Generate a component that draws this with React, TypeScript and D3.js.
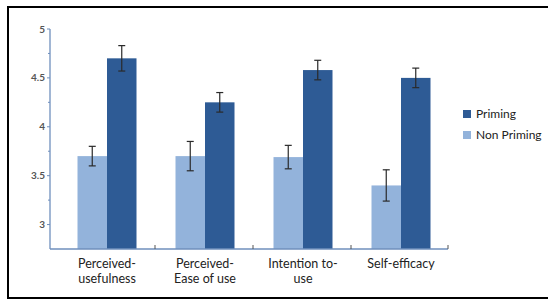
import React from "react";
import { scaleBand, scaleLinear, range } from "d3";

const categories = [
    ["Perceived-", "usefulness"],
    ["Perceived-", "Ease of use"],
    ["Intention to-", "use"],
    ["Self-efficacy"],
];
const primingValues = [4.7, 4.25, 4.58, 4.5];
const primingErrors = [0.13, 0.1, 0.1, 0.1];
const nonPrimingValues = [3.7, 3.7, 3.69, 3.4];
const nonPrimingErrors = [0.1, 0.15, 0.12, 0.16];
const yTickLabels = [3, 3.5, 4, 4.5, 5];
const seriesNames = ["Priming", "Non Priming"];

const WIDTH = 548;
const HEIGHT = 300;
const AXIS_X = 50;
const AXIS_Y = 249;
const DARK = "#2e5b95";
const LIGHT = "#93b3db";
const AXIS_COLOR = "#6f8fbd";
const FONT = "Lato, 'Open Sans', sans-serif";

const App = () => {
    const x = scaleBand<number>()
        .domain(range(categories.length))
        .range([58, 450])
        .paddingInner(0)
        .paddingOuter(0);
    const y = scaleLinear().domain([2.75, 5]).range([AXIS_Y, 29]);
    const barW = 29.5;
    const minorTicks = range(2.75, 5.01, 0.25).filter(v => !yTickLabels.includes(v) && v > 2.76);
    const series = [
        { name: seriesNames[1], color: LIGHT, values: nonPrimingValues, errors: nonPrimingErrors, offset: -barW },
        { name: seriesNames[0], color: DARK, values: primingValues, errors: primingErrors, offset: 0 },
    ];

    return (
        <svg width={WIDTH} height={HEIGHT} style={{ position: "absolute", left: 0, top: 0 }}>
            <rect x={0} y={0} width={WIDTH} height={HEIGHT} fill="#fff" />
            <rect x={8} y={7} width={WIDTH + 20} height={291} fill="none" stroke="#000" strokeWidth={2} />

            {series.map(s =>
                s.values.map((v, i) => {
                    const cx = (x(i) ?? 0) + x.bandwidth() / 2;
                    return (
                        <rect
                            key={s.name + i}
                            x={cx + s.offset}
                            y={y(v)}
                            width={barW}
                            height={AXIS_Y - y(v)}
                            fill={s.color}
                        />
                    );
                }),
            )}

            {series.map(s =>
                s.values.map((v, i) => {
                    const cx = (x(i) ?? 0) + x.bandwidth() / 2 + s.offset + barW / 2;
                    const top = y(v + s.errors[i]);
                    const bot = y(v - s.errors[i]);
                    return (
                        <g key={"err" + s.name + i} stroke="#2a2a2a" strokeWidth={1.2}>
                            <line x1={cx} x2={cx} y1={top} y2={bot} />
                            <line x1={cx - 3.5} x2={cx + 3.5} y1={top} y2={top} />
                            <line x1={cx - 3.5} x2={cx + 3.5} y1={bot} y2={bot} />
                        </g>
                    );
                }),
            )}

            {/* y axis */}
            <line x1={AXIS_X} x2={AXIS_X} y1={y(5)} y2={AXIS_Y} stroke={AXIS_COLOR} strokeWidth={1.3} />
            {yTickLabels.map(t => (
                <g key={t}>
                    <line x1={AXIS_X - 3} x2={AXIS_X} y1={y(t)} y2={y(t)} stroke={AXIS_COLOR} />
                    <text
                        x={AXIS_X - 5}
                        y={y(t) + 3.5}
                        textAnchor="end"
                        fontSize={10}
                        fontFamily={FONT}
                        fill="#555"
                        fontWeight="bold"
                    >
                        {t}
                    </text>
                </g>
            ))}
            {minorTicks.map(t => (
                <line key={t} x1={AXIS_X - 2} x2={AXIS_X} y1={y(t)} y2={y(t)} stroke={AXIS_COLOR} />
            ))}

            {/* x axis */}
            <line x1={AXIS_X} x2={448} y1={AXIS_Y} y2={AXIS_Y} stroke={AXIS_COLOR} strokeWidth={1.3} />
            {range(1, categories.length + 1).map(i => {
                const tx = i === categories.length ? 448 : (x(i) ?? 0) - 1;
                return <line key={i} x1={tx} x2={tx} y1={AXIS_Y - 4} y2={AXIS_Y} stroke="#555" />;
            })}
            {categories.map((lines, i) => {
                const cx = (x(i) ?? 0) + x.bandwidth() / 2;
                return (
                    <text
                        key={i}
                        x={cx}
                        textAnchor="middle"
                        fontSize={12.5}
                        fontFamily={FONT}
                        fill="#222"
                    >
                        {lines.map((l, j) => (
                            <tspan key={j} x={cx} y={268 + j * 15}>
                                {l}
                            </tspan>
                        ))}
                    </text>
                );
            })}

            {/* legend */}
            {[DARK, LIGHT].map((c, i) => (
                <g key={c}>
                    <rect x={463} y={110 + i * 21} width={8} height={8} fill={c} />
                    <text x={476} y={118 + i * 21} fontSize={12} fontFamily={FONT} fill="#222">
                        {seriesNames[i]}
                    </text>
                </g>
            ))}
        </svg>
    );
};

export default App;
